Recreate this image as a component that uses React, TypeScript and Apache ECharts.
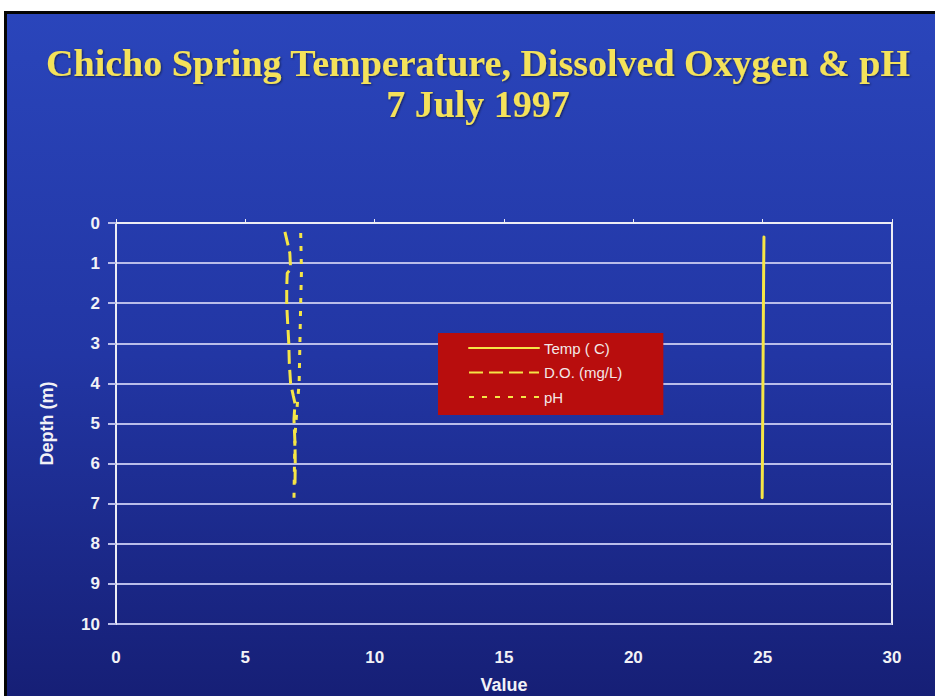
import React, { useEffect, useRef } from "react";
import * as echarts from "echarts";

const titleLines = ["Chicho Spring Temperature, Dissolved Oxygen & pH", "7 July 1997"];
const seriesNames = ["Temp ( C)", "D.O. (mg/L)", "pH"];

const tempDepth = [0.35, 1, 2, 3, 4, 5, 6, 6.85];
const tempValues = [25.05, 25.04, 25.03, 25.02, 25.01, 25.0, 24.99, 24.98];

const doDepth = [0.22, 0.75, 1.15, 1.25, 1.6, 2.0, 2.3, 3.0, 3.5, 4.0, 4.3, 4.5, 4.9, 5.5, 6.0, 6.5];
const doValues = [6.53, 6.72, 6.75, 6.62, 6.6, 6.6, 6.62, 6.68, 6.7, 6.75, 6.85, 6.92, 6.88, 6.92, 6.93, 6.92];

const phDepth = [0.25, 1.2, 2.0, 3.0, 4.0, 4.6, 5.3, 6.0, 6.9];
const phValues = [7.14, 7.17, 7.14, 7.11, 7.08, 7.0, 6.92, 6.9, 6.88];

const zip = (vals: number[], depths: number[]) => vals.map((v, i) => [v, depths[i]]);

export default function App() {
  const ref = useRef<HTMLDivElement>(null);
  useEffect(() => {
    document.body.style.margin = "0";
    const chart = echarts.init(ref.current!, null, { renderer: "svg" });
    const yellow = "#f5e546";
    const labelFont = { color: "#f2f2f6", fontFamily: "Liberation Sans", fontWeight: "bold" as const, fontSize: 17 };
    chart.setOption({
      animation: false,
      backgroundColor: "#ffffff",
      graphic: [
        { type: "rect", z: -10, shape: { x: 4, y: 11, width: 931, height: 685 }, style: { fill: "#050505" } },
        {
          type: "rect",
          z: -9,
          shape: { x: 7, y: 14, width: 928, height: 682 },
          style: {
            fill: new echarts.graphic.LinearGradient(0, 0, 0, 1, [
              { offset: 0, color: "#2a45bb" },
              { offset: 0.5, color: "#2236a4" },
              { offset: 1, color: "#161f76" },
            ]),
          },
        },
      ],
      title: {
        text: titleLines.join("\n"),
        left: 473,
        top: 37,
        textAlign: "center",
        textStyle: {
          color: "#f4e25a",
          fontFamily: "Liberation Serif",
          fontWeight: "bold",
          fontSize: 38,
          lineHeight: 41,
          textShadowColor: "rgba(0,0,0,0.5)",
          textShadowBlur: 2,
          textShadowOffsetX: 1,
          textShadowOffsetY: 1,
        },
      },
      legend: {
        orient: "vertical",
        left: 438,
        top: 333,
        backgroundColor: "#b80d0d",
        padding: [7.5, 41, 10.5, 30],
        itemWidth: 70,
        itemHeight: 14,
        itemGap: 9.5,
        data: seriesNames,
        itemStyle: { opacity: 0 },
        textStyle: { color: "#f3e8e8", fontFamily: "Liberation Sans", fontSize: 15 },
      },
      grid: {
        left: 116,
        top: 223,
        width: 776,
        height: 401,
        outerBoundsMode: "none",
        containLabel: false,
        show: true,
        borderColor: "#ececf4",
        borderWidth: 2,
        backgroundColor: "transparent",
      },
      xAxis: {
        type: "value",
        min: 0,
        max: 30,
        interval: 5,
        name: "Value",
        nameLocation: "middle",
        nameGap: 52,
        nameTextStyle: { ...labelFont, fontSize: 18 },
        axisLine: { show: true, lineStyle: { color: "#ececf4", width: 2 } },
        axisTick: { show: true, inside: true, length: 4, lineStyle: { color: "#ececf4" } },
        axisLabel: { ...labelFont, margin: 25 },
        splitLine: { show: false },
      },
      yAxis: {
        type: "value",
        inverse: true,
        min: 0,
        max: 10,
        interval: 1,
        name: "Depth (m)",
        nameLocation: "middle",
        nameGap: 60,
        nameRotate: 90,
        nameTextStyle: { ...labelFont, fontSize: 18 },
        axisLine: { show: true, lineStyle: { color: "#ececf4", width: 2 } },
        axisTick: { show: true, length: 8, lineStyle: { color: "#b9bdea", width: 2 } },
        axisLabel: { ...labelFont, margin: 16 },
        splitLine: { show: true, lineStyle: { color: "#b9bdea", width: 2 } },
      },
      series: [
        {
          name: seriesNames[0],
          type: "line",
          data: zip(tempValues, tempDepth),
          symbol: "none",
          lineStyle: { color: yellow, width: 3, cap: "round" },
          itemStyle: { color: yellow },
          z: 5,
        },
        {
          name: seriesNames[1],
          type: "line",
          data: zip(doValues, doDepth),
          symbol: "none",
          lineStyle: { color: yellow, width: 3, type: [14, 6] },
          itemStyle: { color: yellow },
          z: 5,
        },
        {
          name: seriesNames[2],
          type: "line",
          data: zip(phValues, phDepth),
          symbol: "none",
          lineStyle: { color: yellow, width: 3, type: [5, 8] },
          itemStyle: { color: yellow },
          z: 5,
        },
      ],
    });
    return () => chart.dispose();
  }, []);
  return <div ref={ref} style={{ width: 935, height: 696 }} />;
}
